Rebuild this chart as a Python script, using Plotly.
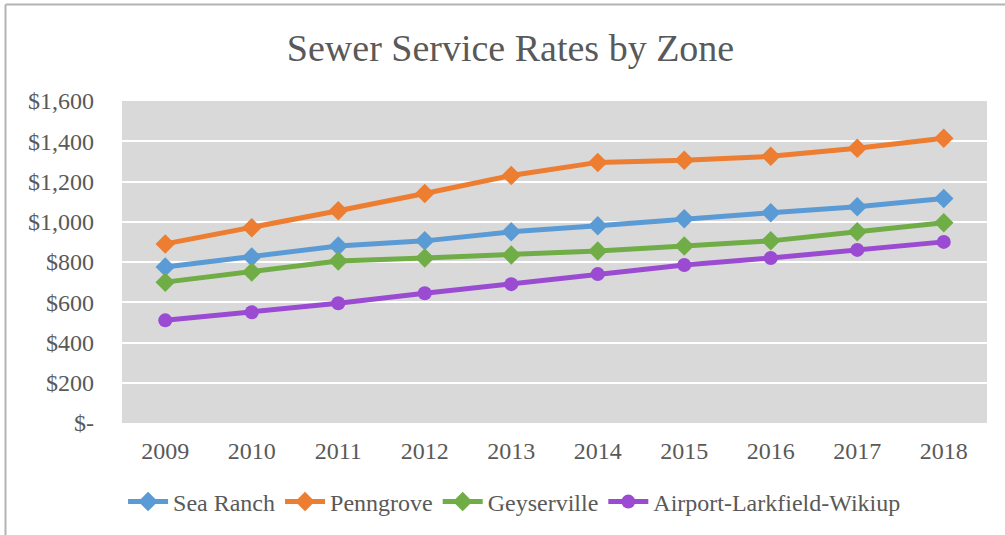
import plotly.graph_objects as go

years = ["2009", "2010", "2011", "2012", "2013", "2014", "2015", "2016", "2017", "2018"]
sea_ranch = [775, 825, 880, 905, 950, 980, 1015, 1045, 1075, 1115]
penngrove = [890, 970, 1055, 1140, 1230, 1295, 1305, 1325, 1365, 1415]
geyserville = [700, 750, 805, 820, 835, 855, 880, 905, 950, 995]
airport = [510, 550, 595, 645, 690, 740, 785, 820, 860, 900]

y_tickvals = [0, 200, 400, 600, 800, 1000, 1200, 1400, 1600]
y_ticktext = ["$-", "$200", "$400", "$600", "$800", "$1,000", "$1,200", "$1,400", "$1,600"]

series = [
    ("Sea Ranch", sea_ranch, "#5b9bd5", "diamond", 15),
    ("Penngrove", penngrove, "#ed7d31", "diamond", 15),
    ("Geyserville", geyserville, "#70ad47", "diamond", 15),
    ("Airport-Larkfield-Wikiup", airport, "#9a4bd1", "circle", 14),
]

fig = go.Figure()
for name, vals, color, sym, size in series:
    fig.add_trace(go.Scatter(
        x=years, y=vals, name=name, mode="lines+markers",
        line=dict(color=color, width=5),
        marker=dict(symbol=sym, size=size, color=color),
    ))

font_family = "Liberation Serif, Times New Roman, serif"
fig.update_layout(
    width=1005, height=535,
    margin=dict(l=122, r=18, t=101, b=112),
    paper_bgcolor="white",
    plot_bgcolor="#d9d9d9",
    font=dict(family=font_family, color="#595959", size=24),
    title=dict(text="Sewer Service Rates by Zone", x=0.508, xanchor="center",
               y=1 - 48 / 535, yanchor="middle", yref="container",
               font=dict(size=38, color="#595959", family=font_family)),
    showlegend=True,
    legend=dict(orientation="h", x=0.512, xanchor="center", xref="container",
                y=1 - 502 / 535, yanchor="middle", yref="container",
                font=dict(size=24, color="#595959", family=font_family),
                itemwidth=40, tracegroupgap=0),
    xaxis=dict(type="category", range=[-0.5, 9.5], showgrid=False, zeroline=False,
               showline=False, ticks="", ticklabelstandoff=11, automargin=False,
               tickfont=dict(size=24, color="#595959", family=font_family)),
    yaxis=dict(range=[0, 1600], tickvals=y_tickvals, ticktext=y_ticktext,
               showgrid=True, gridcolor="white", gridwidth=2, zeroline=False,
               showline=False, ticks="", ticklabelstandoff=27, automargin=False,
               tickfont=dict(size=24, color="#595959", family=font_family)),
    shapes=[
        dict(type="line", xref="paper", yref="paper",
             x0=(5.5 - 122) / 865, x1=(5.5 - 122) / 865,
             y0=(423 - 4.5) / 322, y1=(423 - 540) / 322,
             line=dict(color="#b3b3b3", width=2)),
        dict(type="line", xref="paper", yref="paper",
             x0=(5.5 - 122) / 865, x1=(1010 - 122) / 865,
             y0=(423 - 4.5) / 322, y1=(423 - 4.5) / 322,
             line=dict(color="#b3b3b3", width=2)),
    ],
)

fig.write_html("out.html", config={"displayModeBar": False},
               post_script="document.body.style.margin='0';")
